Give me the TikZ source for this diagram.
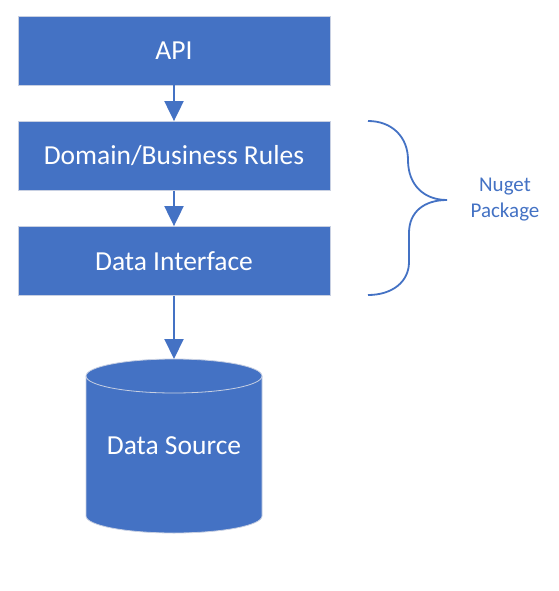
\documentclass[tikz,border=0pt]{standalone}
\usepackage{fontspec}
\setmainfont{Carlito}
\usetikzlibrary{positioning,arrows.meta}
\definecolor{office}{RGB}{68,114,196}
\definecolor{rim}{RGB}{200,208,226}

\begin{document}
\begin{tikzpicture}[
  x=1pt, y=1pt,
  every node/.style={font=\fontsize{27.5}{32}\selectfont},
  layer/.style={rectangle, draw=rim, line width=0.8pt, fill=office, text=white,
                minimum width=312pt, minimum height=69pt, inner sep=0pt},
  store/.style={rectangle, text=white, minimum width=176pt, minimum height=174pt,
                inner sep=0pt, outer sep=0pt},
  flow/.style={draw=office, line width=2pt, -{Triangle[length=20pt,width=19pt]}},
  bracket/.style={draw=office, line width=1.8pt},
  note/.style={align=center, text=office, font=\fontsize{21}{26}\selectfont}
]
  \useasboundingbox (0,0) rectangle (558,-591);

  % Layers
  \node[layer] (api)    at (174,-50.5) {API};
  \node[layer] (domain) at (174,-156)  {Domain/Business Rules};
  \node[layer] (iface)  at (174,-261)  {Data Interface};

  % Data store (cylinder drawn behind its label)
  \path[fill=office, draw=rim, line width=0.8pt]
    (86,-376) -- (86,-516) arc[start angle=180, end angle=360, x radius=88, y radius=17]
    -- (262,-376) arc[start angle=0, end angle=180, x radius=88, y radius=17] -- cycle;
  \draw[rim, line width=0.8pt]
    (86,-376) arc[start angle=180, end angle=360, x radius=88, y radius=17];
  \node[store] (src) at (174,-446) {Data Source};

  % Flow between layers
  \draw[flow] (api) -- (domain);
  \draw[flow] (domain) -- (iface);
  \draw[flow] (iface) -- (src);

  % Package brace
  \coordinate (btop) at (368,-121);
  \coordinate (btip) at (447,-200);
  \coordinate (bbot) at (368,-295);
  \draw[bracket] (btop) .. controls (392,-121) and (408,-137) .. (408,-160)
    .. controls (408,-185) and (424,-200) .. (btip)
    .. controls (424,-200) and (409,-212) .. (409,-233) -- (409,-262)
    .. controls (409,-282) and (392,-295) .. (bbot);
  \node[note] (pkg) at (505,-199.5) {Nuget\\Package};
\end{tikzpicture}
\end{document}
